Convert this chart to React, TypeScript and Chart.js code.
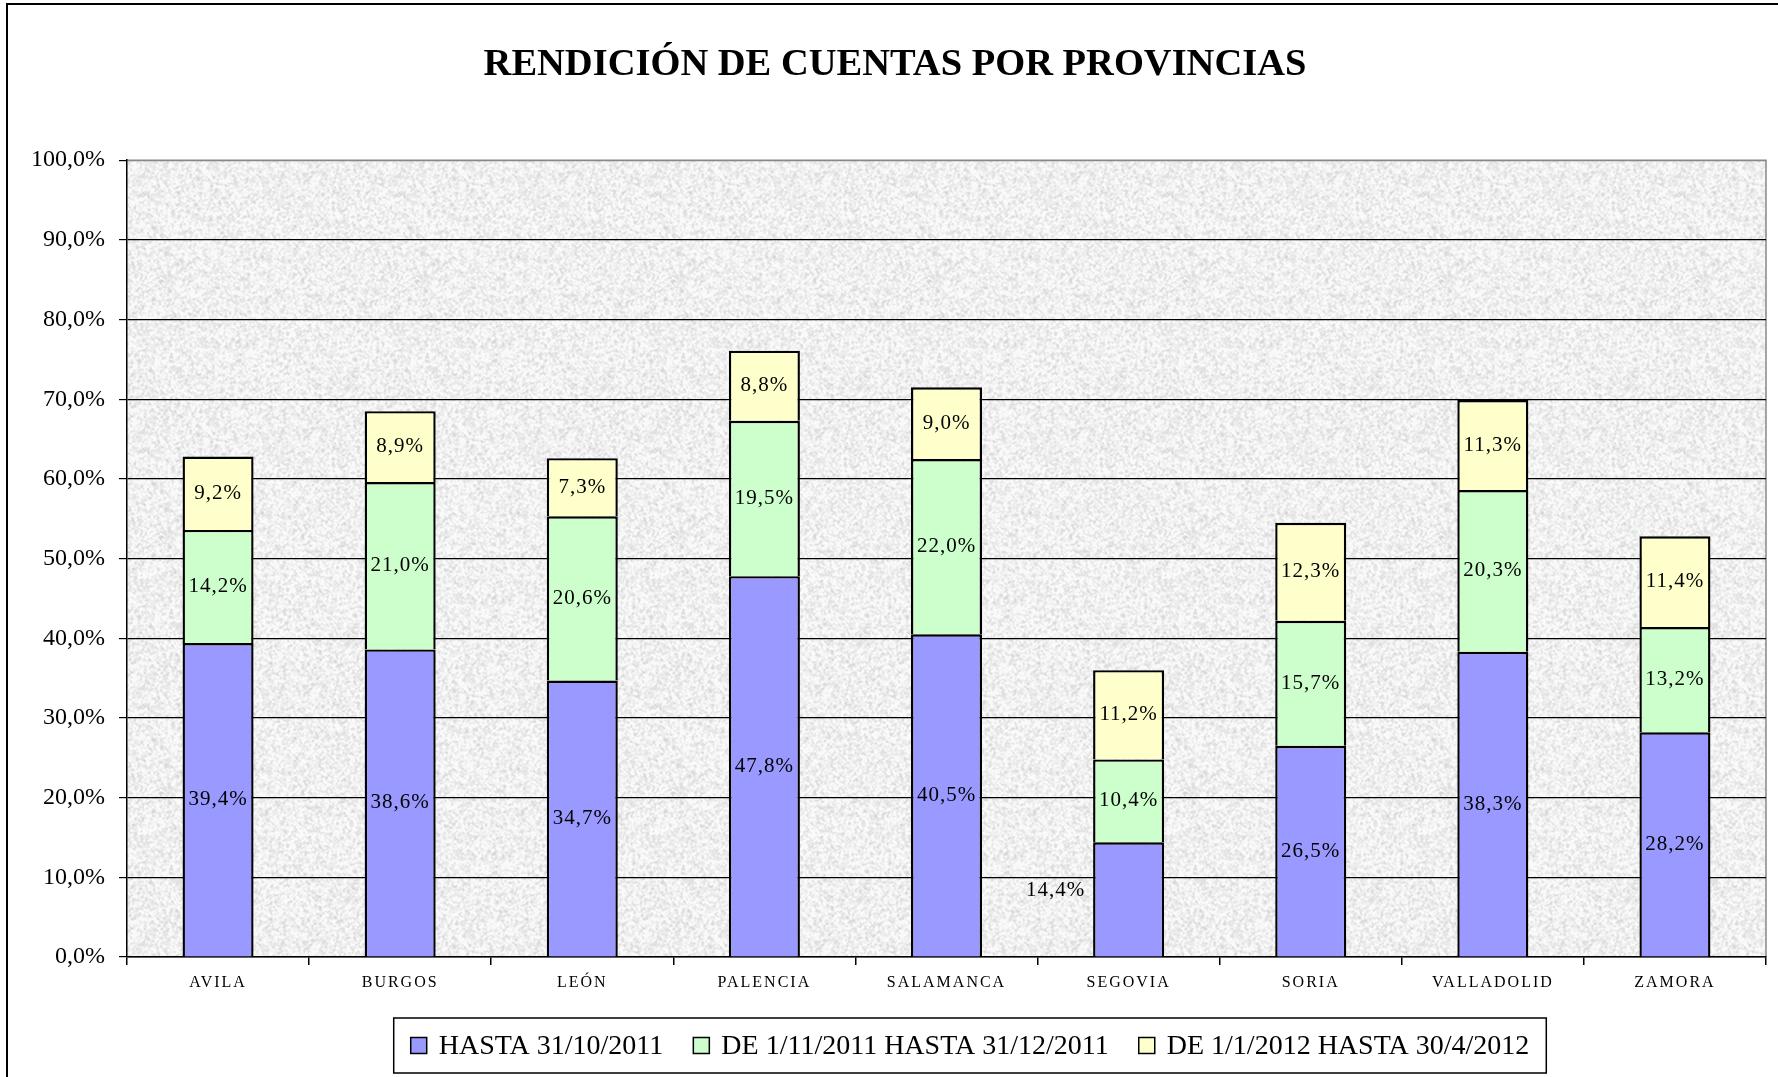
import React, { useEffect, useRef } from "react";
import { Chart, registerables } from "chart.js";
Chart.register(...registerables);

const chartTitle = "RENDICIÓN DE CUENTAS POR PROVINCIAS";
const provinces = ["AVILA", "BURGOS", "LEÓN", "PALENCIA", "SALAMANCA", "SEGOVIA", "SORIA", "VALLADOLID", "ZAMORA"];
const seriesNames = ["HASTA 31/10/2011", "DE 1/11/2011 HASTA 31/12/2011", "DE 1/1/2012 HASTA 30/4/2012"];
const hasta31Oct2011 = [39.4, 38.6, 34.7, 47.8, 40.5, 14.4, 26.5, 38.3, 28.2];
const nov2011ToDec2011 = [14.2, 21.0, 20.6, 19.5, 22.0, 10.4, 15.7, 20.3, 13.2];
const jan2012ToApr2012 = [9.2, 8.9, 7.3, 8.8, 9.0, 11.2, 12.3, 11.3, 11.4];
const yTickValues = [0, 10, 20, 30, 40, 50, 60, 70, 80, 90, 100];
const seriesColors = ["#9999FF", "#CCFFCC", "#FFFFCC"];

const W = 1778;
const H = 1077;
const SERIF = '"Liberation Serif", "Times New Roman", serif';

const fmtPct = (v: number) => v.toFixed(1).replace(".", ",") + "%";

// the one label that Excel had moved to the left of its bar
const movedLabel = { dataset: 0, index: 5, dx: -73, dy: -9 };

function makeTexture(): HTMLCanvasElement {
  const size = 256;
  const c = document.createElement("canvas");
  c.width = c.height = size;
  const g = c.getContext("2d")!;
  const img = g.createImageData(size, size);
  let s = 987654321;
  const rnd = () => {
    s ^= s << 13;
    s ^= s >>> 17;
    s ^= s << 5;
    return ((s >>> 0) % 10000) / 10000;
  };
  const raw = new Float32Array(size * size);
  for (let i = 0; i < raw.length; i++) raw[i] = rnd();
  for (let y = 0; y < size; y++) {
    for (let x = 0; x < size; x++) {
      let sum = 0;
      for (let dy = -1; dy <= 1; dy++)
        for (let dx = -1; dx <= 1; dx++)
          sum += raw[((y + dy + size) % size) * size + ((x + dx + size) % size)];
      const avg = sum / 9;
      const v = Math.max(0, Math.min(250, 240 + (avg - 0.5) * 75 + (raw[y * size + x] - 0.5) * 14));
      const p = (y * size + x) * 4;
      img.data[p] = v;
      img.data[p + 1] = v;
      img.data[p + 2] = v;
      img.data[p + 3] = 255;
    }
  }
  g.putImageData(img, 0, 0);
  return c;
}

export default function App() {
  const ref = useRef<HTMLCanvasElement>(null);

  useEffect(() => {
    document.body.style.margin = "0";
    const canvas = ref.current!;
    const texture = makeTexture();

    const decor = {
      id: "decor",
      beforeDraw(chart: any) {
        const { ctx, chartArea: a } = chart;
        ctx.save();
        ctx.fillStyle = "#fff";
        ctx.fillRect(0, 0, W, H);
        const pat = ctx.createPattern(texture, "repeat");
        ctx.fillStyle = pat;
        ctx.fillRect(a.left, a.top, a.right - a.left, a.bottom - a.top);
        ctx.strokeStyle = "#888";
        ctx.lineWidth = 1.5;
        ctx.beginPath();
        ctx.moveTo(a.left, a.top);
        ctx.lineTo(a.right, a.top);
        ctx.lineTo(a.right, a.bottom);
        ctx.stroke();
        ctx.restore();
      },
      afterDatasetsDraw(chart: any) {
        const ctx = chart.ctx;
        ctx.save();
        ctx.font = `21px ${SERIF}`;
        (ctx as any).letterSpacing = "1px";
        ctx.fillStyle = "#000";
        ctx.textAlign = "center";
        ctx.textBaseline = "middle";
        chart.data.datasets.forEach((ds: any, di: number) => {
          const meta = chart.getDatasetMeta(di);
          meta.data.forEach((el: any, i: number) => {
            const { x, y, base } = el.getProps(["x", "y", "base"], true);
            let tx = x;
            let ty = (y + base) / 2;
            if (di === movedLabel.dataset && i === movedLabel.index) {
              tx += movedLabel.dx;
              ty += movedLabel.dy;
            }
            ctx.fillText(fmtPct(ds.data[i]), tx, ty);
          });
        });
        ctx.restore();
        // spacing for the category labels, drawn after the datasets
        (ctx as any).letterSpacing = "2px";
      },
      afterDraw(chart: any) {
        const ctx = chart.ctx;
        (ctx as any).letterSpacing = "0px";
        ctx.save();
        // outer frame
        ctx.strokeStyle = "#000";
        ctx.lineWidth = 2;
        ctx.beginPath();
        ctx.moveTo(7, H + 5);
        ctx.lineTo(7, 4);
        ctx.lineTo(W + 5, 4);
        ctx.stroke();

        // legend
        ctx.font = `28px ${SERIF}`;
        ctx.textBaseline = "middle";
        ctx.textAlign = "left";
        const sw = 16, gapText = 12, gapItem = 30, padX = 17;
        const labels = chart.data.datasets.map((d: any) => d.label);
        const widths = labels.map((t: string) => ctx.measureText(t).width);
        const contentW =
          widths.reduce((s: number, w: number) => s + sw + gapText + w, 0) + gapItem * (labels.length - 1);
        const boxW = contentW + 2 * padX;
        const cx = 970;
        const boxLeft = cx - boxW / 2;
        const boxTop = 1018;
        const boxH = 55;
        const cy = boxTop + boxH / 2;
        ctx.fillStyle = "#fff";
        ctx.fillRect(boxLeft, boxTop, boxW, boxH);
        ctx.lineWidth = 1.5;
        ctx.strokeStyle = "#000";
        ctx.strokeRect(boxLeft, boxTop, boxW, boxH);
        let x = boxLeft + padX;
        labels.forEach((t: string, i: number) => {
          ctx.fillStyle = chart.data.datasets[i].backgroundColor;
          ctx.fillRect(x, cy - sw / 2, sw, sw);
          ctx.strokeRect(x, cy - sw / 2, sw, sw);
          ctx.fillStyle = "#000";
          ctx.fillText(t, x + sw + gapText, cy + 1);
          x += sw + gapText + widths[i] + gapItem;
        });
        ctx.restore();
      },
    };

    const series = [hasta31Oct2011, nov2011ToDec2011, jan2012ToApr2012];
    const chart = new Chart(canvas, {
      type: "bar",
      data: {
        labels: provinces,
        datasets: series.map((d, i) => ({
          label: seriesNames[i],
          data: d,
          backgroundColor: seriesColors[i],
          borderColor: "#000",
          borderWidth: 2.4,
          borderSkipped: "start",
          barPercentage: 0.39,
          categoryPercentage: 1,
        })),
      },
      options: {
        responsive: false,
        animation: false,
        layout: { padding: { left: 24, right: 12, top: 0, bottom: 0 } },
        plugins: {
          legend: { display: false },
          tooltip: { enabled: false },
          title: {
            display: true,
            text: chartTitle,
            color: "#000",
            font: { family: SERIF, size: 38.5, weight: "bold" },
            padding: { top: 42, bottom: 72 },
          },
        },
        scales: {
          x: {
            stacked: true,
            grid: {
              offset: true,
              drawOnChartArea: false,
              tickLength: 8,
              tickColor: "#000",
              lineWidth: 1.5,
            },
            border: { color: "#000", width: 1.5 },
            ticks: {
              color: "#000",
              font: { family: SERIF, size: 16 },
              padding: 8,
              maxRotation: 0,
              z: 1,
            },
            afterFit(scale: any) {
              scale.height = 120;
            },
          },
          y: {
            stacked: true,
            min: 0,
            max: 100,
            afterBuildTicks(scale: any) {
              scale.ticks = yTickValues.map((v) => ({ value: v }));
            },
            grid: {
              color: (c: any) => (c.tick && c.tick.value === 100 ? "#888" : "#000"),
              tickColor: "#000",
              tickLength: 8,
              lineWidth: 1.2,
            },
            border: { color: "#000", width: 1.5 },
            ticks: {
              color: "#000",
              font: { family: SERIF, size: 24 },
              padding: 14,
              callback: (v: any) => fmtPct(Number(v)),
            },
            afterFit(scale: any) {
              scale.width = 103;
            },
          },
        },
      },
      plugins: [decor],
    } as any);
    return () => chart.destroy();
  }, []);

  return <canvas ref={ref} width={W} height={H} style={{ display: "block" }} />;
}
